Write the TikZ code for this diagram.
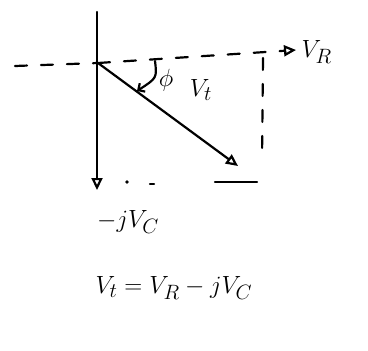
\documentclass[tikz,border=0pt]{standalone}
\usetikzlibrary{arrows.meta}
\begin{document}
\begin{tikzpicture}[x=1pt,y=-1pt,
  pen/.style={line width=2.2pt,line cap=round,line join=round},
  dsh/.style={pen,dash pattern=on 12pt off 14pt},
  tip/.style={-{Triangle[open,length=12pt,width=11pt,line width=2.2pt]}},
  lbl/.style={font=\fontsize{30}{32}\selectfont}]
\useasboundingbox (0,0) rectangle (368,351);
\coordinate (o) at (98,63);
\coordinate (top) at (97,12);
\coordinate (bot) at (97,190);
\coordinate (left) at (15,66);
\coordinate (right) at (296,50);
\coordinate (vt) at (238,166);
\node[lbl,anchor=west] (vr) at (298,52) {$V_R$};
\node[lbl] (vc) at (128,222) {$-jV_C$};
\node[lbl] (phi) at (166,80) {$\phi$};
\node[lbl] (vtl) at (201,90) {$V_t$};
\node[lbl,anchor=west] (eq) at (92,288) {$V_t = V_R - jV_C$};
\draw[pen,tip] (top) -- (bot);
\draw[dsh] (left) -- (o);
\draw[dsh,tip] (o) -- (right);
\draw[pen,tip] (o) -- (vt);
\draw[pen,-{Straight Barb[length=5pt]}] (155,61) .. controls (157,78) .. (137,91);
\draw[dsh] (263,58) -- (262,160);
\draw[pen] (215,182) -- (257,182);
\fill (127,182) circle (1.8pt);
\draw[pen] (150,184) -- (154,184);
\end{tikzpicture}
\end{document}
